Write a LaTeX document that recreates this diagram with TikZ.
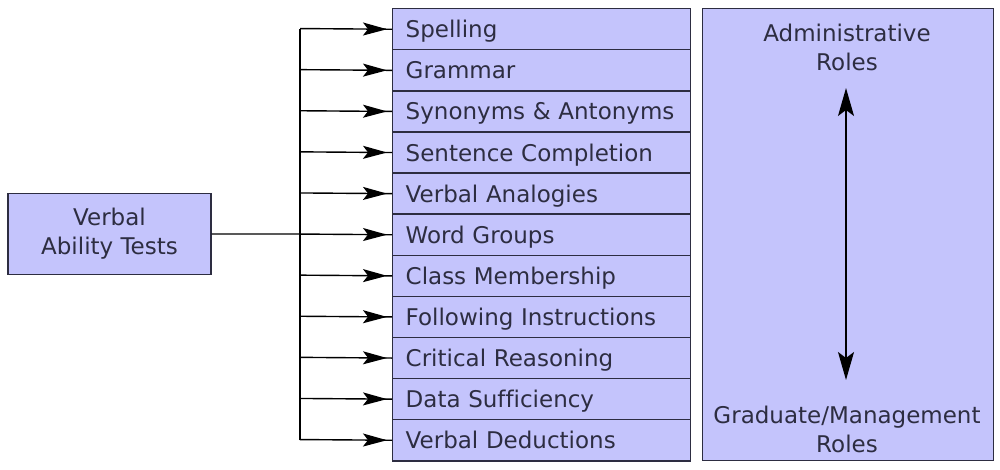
\documentclass[tikz,border=0pt]{standalone}
\usepackage{fontspec}
\setmainfont[Ligatures=NoCommon]{DejaVu Sans}
\usetikzlibrary{arrows.meta,decorations.markings}
\definecolor{lavande}{RGB}{196,196,252}
\definecolor{encre}{RGB}{45,45,65}

\begin{document}
\begin{tikzpicture}[x=1pt,y=-1pt,
  testbox/.style={draw=encre,fill=lavande,line width=1.4pt,text=encre,
    font=\fontsize{23}{29}\selectfont},
  testrow/.style={testbox,anchor=north west,minimum height=41.1pt,
    text width=272pt,inner xsep=13pt,inner ysep=0pt,align=left,
    text height=20pt,text depth=3pt},
  rolelabel/.style={text=encre,align=center,font=\fontsize{23}{29}\selectfont},
  wire/.style={line width=1.4pt,draw=black},
  feed/.style={wire,postaction={decorate},
    decoration={markings,mark=at position -5pt with
      {\arrow{Stealth[length=24pt,width=13pt,inset=5pt]}}}}]
  \useasboundingbox (0,0) rectangle (1000,470);
  \foreach \t [count=\i] in {Spelling,Grammar,Synonyms \& Antonyms,
    Sentence Completion,Verbal Analogies,Word Groups,Class Membership,
    Following Instructions,Critical Reasoning,Data Sufficiency,
    Verbal Deductions} {
    \node[testrow] (t\i) at (392,{8+41.1*(\i-1)}) {\t};
    \coordinate (b\i) at (300,{8+41.1*(\i-0.5)});
    \draw[feed] (b\i) -- (t\i.west);
  }
  \draw[wire] (b1) -- (b11);

  \node[testbox,minimum width=203pt,minimum height=81pt,align=center]
    (verbal) at (109.5,234) {Verbal\\Ability Tests};
  \draw[wire] (verbal.east) -- (b6);

  % roles
  \node[testbox,anchor=north west,minimum width=291pt,minimum height=452pt]
    (roles) at (702,8) {};
  \node[rolelabel] (admin) at (847,47) {Administrative\\Roles};
  \node[rolelabel] (grad) at (847,429) {Graduate/Management\\Roles};
  \coordinate (haut) at (846,88);
  \coordinate (bas) at (846,380);
  \draw[wire,
    {Stealth[length=28pt,width=16pt,inset=6pt]}-{Stealth[length=28pt,width=16pt,inset=6pt]}]
    (haut) -- (bas);
\end{tikzpicture}
\end{document}
